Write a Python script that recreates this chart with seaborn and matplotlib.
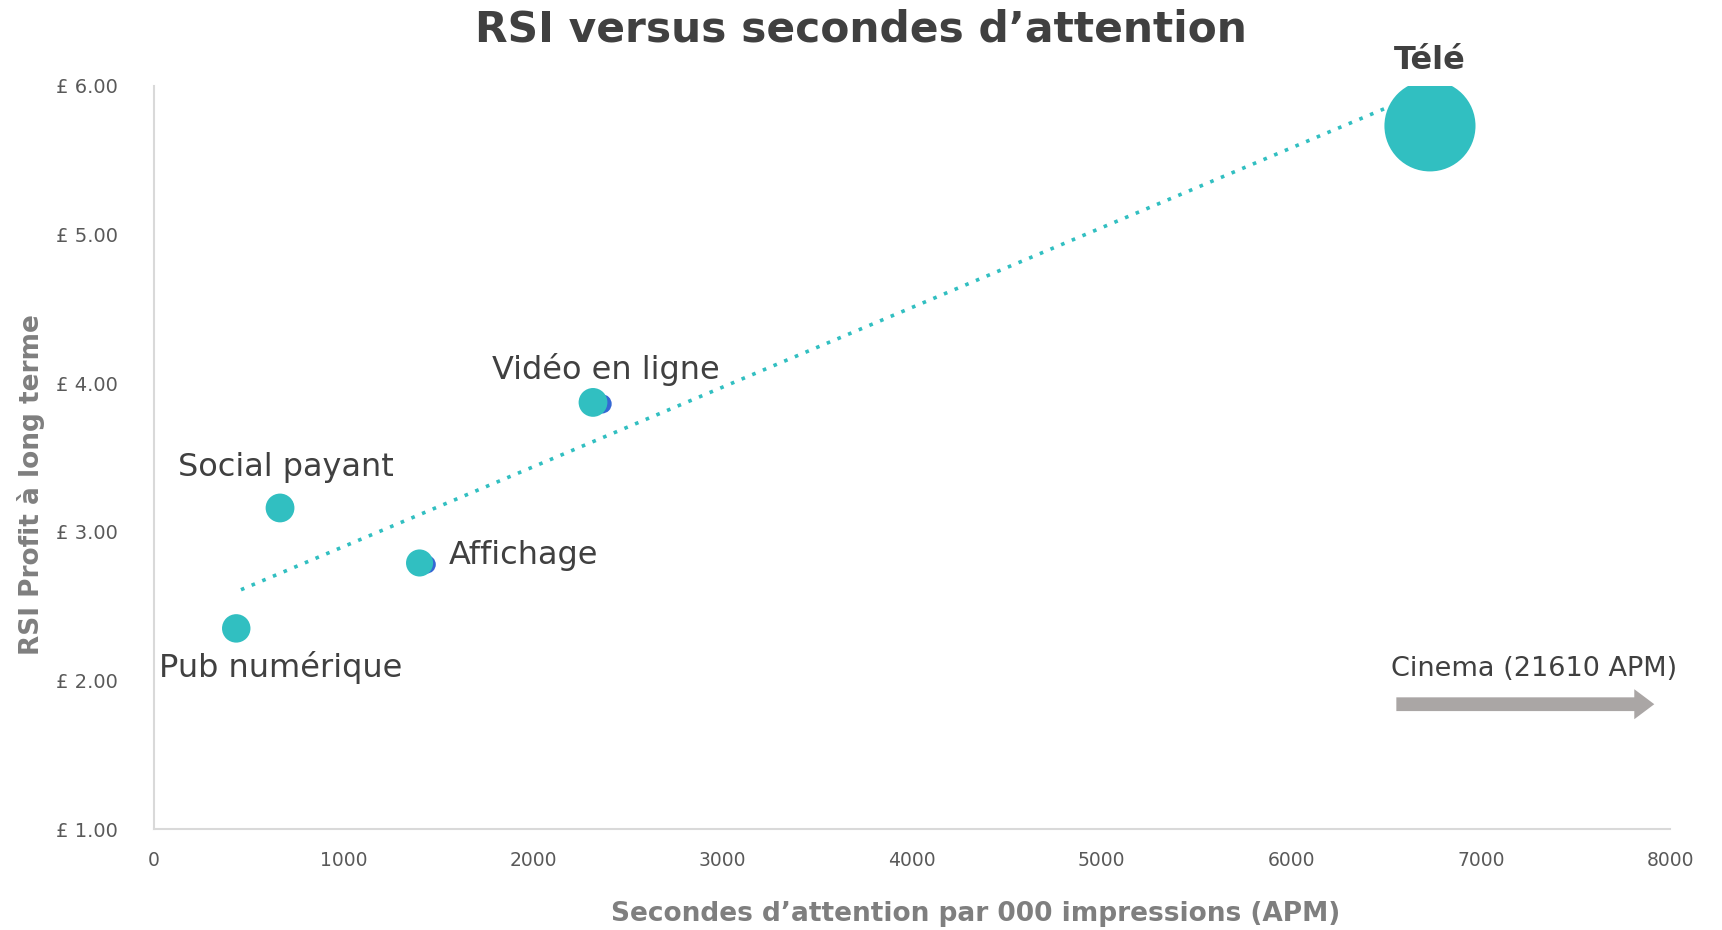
import numpy as np
import pandas as pd
import matplotlib
matplotlib.use("Agg")
import matplotlib.pyplot as plt
import seaborn as sns

# data
channels = ["Pub numérique", "Social payant", "Affichage", "Vidéo en ligne", "Télé"]
apm = [435, 666, 1402, 2317, 6732]
rsi = [2.35, 3.16, 2.79, 3.87, 5.73]
bubble = [420, 430, 380, 430, 4300]
# second (hidden) series sitting just behind the teal bubbles
apm_back = [450, 690, 1440, 2365, 6740]
rsi_back = [2.35, 3.17, 2.78, 3.86, 5.73]
bubble_back = [150, 170, 170, 190, 150]
# dotted trend line end points
trend_x = [460, 6500]
trend_y = [2.61, 5.85]
# cinema arrow
cinema_x = [6540, 7930]
cinema_y = 1.84

teal = "#31bfc1"
blue = "#3568d4"
dark = "#404040"
grey = "#7f7f7f"

df = pd.DataFrame({"channel": channels, "apm": apm, "rsi": rsi, "size": bubble})
back = pd.DataFrame({"apm": apm_back, "rsi": rsi_back, "size": bubble_back})

sns.set_theme(style="white")
plt.rcParams["font.family"] = ["DejaVu Sans"]

fig = plt.figure(figsize=(17.22, 9.30), dpi=100)
ax = fig.add_axes([0.0893, 0.1085, 0.8807, 0.7993])

ax.scatter(back["apm"], back["rsi"], s=back["size"], color=blue, linewidths=0, zorder=2)
ax.scatter(df["apm"], df["rsi"], s=df["size"], color=teal, linewidths=0, zorder=3)
sns.lineplot(x=trend_x, y=trend_y, ax=ax, color=teal, linestyle=(0, (1, 2.2)),
             linewidth=2.6, zorder=1)

ax.set_xlim(0, 8000)
ax.set_ylim(1, 6)
ax.set_xticks(np.arange(0, 8001, 1000))
ax.set_yticks(np.arange(1, 6.01, 1))
ax.set_yticklabels([f"£ {v:.2f}" for v in np.arange(1, 6.01, 1)])
ax.tick_params(axis="x", labelsize=13.5, colors="#595959", pad=16, length=0)
ax.tick_params(axis="y", labelsize=14, colors="#595959", pad=26, length=0)
for lbl in ax.get_yticklabels():
    lbl.set_horizontalalignment("right")

for side in ["top", "right"]:
    ax.spines[side].set_visible(False)
for side in ["left", "bottom"]:
    ax.spines[side].set_color("#d9d9d9")
    ax.spines[side].set_linewidth(1.5)

ax.set_xlabel("Secondes d’attention par 000 impressions (APM)", fontsize=19,
              fontweight="bold", color=grey, va="center")
ax.xaxis.set_label_coords(0.542, -0.114)
ax.set_ylabel("RSI Profit à long terme", fontsize=19, fontweight="bold",
              color=grey, va="center")
ax.yaxis.set_label_coords(-0.081, 0.464)

# data labels
lab = dict(fontsize=23, color=dark)
ax.text(2385, 4.09, "Vidéo en ligne", ha="center", va="center", **lab)
ax.text(695, 3.43, "Social payant", ha="center", va="center", **lab)
ax.text(1555, 2.84, "Affichage", ha="left", va="center", **lab)
ax.text(670, 2.09, "Pub numérique", ha="center", va="center", **lab)
ax.text(6730, 6.17, "Télé", ha="center", va="center", fontweight="bold",
        clip_on=False, **lab)
ax.text(6525, 2.08, "Cinema (21610 APM)", ha="left", va="center",
        fontsize=19.5, color=dark)

ax.annotate("", xy=(cinema_x[1], cinema_y), xytext=(cinema_x[0], cinema_y),
            arrowprops=dict(arrowstyle="simple,head_length=0.8,head_width=1.2,tail_width=0.55",
                            color="#aaa6a5", lw=0, mutation_scale=18))

fig.text(0.5, 0.968, "RSI versus secondes d’attention", ha="center", va="center",
         fontsize=30.5, fontweight="bold", color=dark)

fig.savefig("out.png", dpi=100)
